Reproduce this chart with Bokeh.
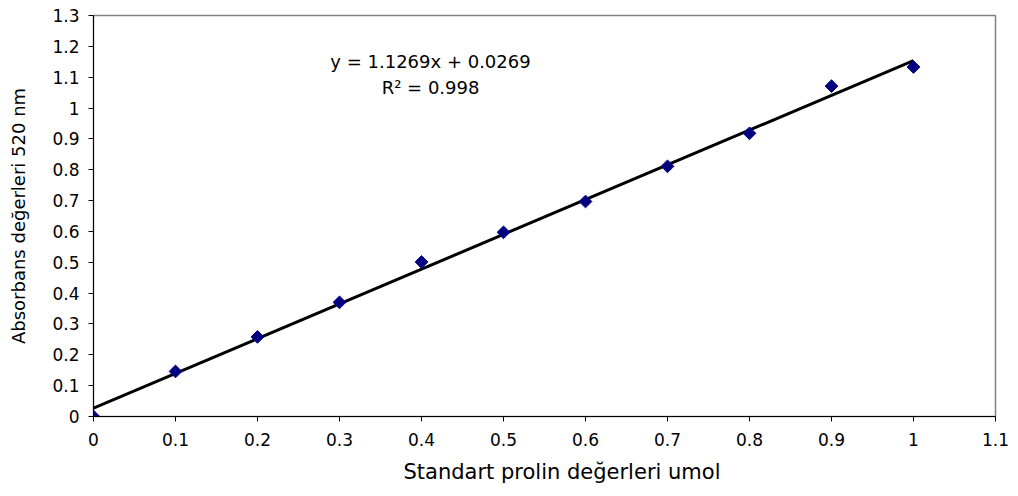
from bokeh.plotting import figure
from bokeh.models import Range1d, FixedTicker, NumeralTickFormatter, Label, Title, ColumnDataSource
from bokeh.embed import file_html
from bokeh.resources import INLINE
import numpy as np

# Standard proline calibration data
concentration = [0.0, 0.1, 0.2, 0.3, 0.4, 0.5, 0.6, 0.7, 0.8, 0.9, 1.0]
absorbance = [0.0, 0.146, 0.258, 0.370, 0.501, 0.597, 0.697, 0.811, 0.918, 1.071, 1.133]

# Linear trendline
slope = 1.1269
intercept = 0.0269
r_squared = 0.998

x_ticks = [0, 0.1, 0.2, 0.3, 0.4, 0.5, 0.6, 0.7, 0.8, 0.9, 1, 1.1]
y_ticks = [0, 0.1, 0.2, 0.3, 0.4, 0.5, 0.6, 0.7, 0.8, 0.9, 1, 1.1, 1.2, 1.3]

x_title = "Standart prolin değerleri umol"
y_title = "Absorbans değerleri 520 nm"

FONT = "DejaVu Sans"

p = figure(width=1018, height=496, output_backend="svg", toolbar_location=None,
           x_range=Range1d(0, 1.1), y_range=Range1d(0, 1.3))
p.min_border_left = 93
p.min_border_right = 23
p.min_border_top = 15
p.min_border_bottom = 80
p.background_fill_color = "white"
p.border_fill_color = "white"
p.outline_line_color = "#808080"
p.outline_line_width = 1.5
p.xgrid.visible = False
p.ygrid.visible = False

for ax, ticks in ((p.xaxis, x_ticks), (p.yaxis, y_ticks)):
    ax.ticker = FixedTicker(ticks=ticks)
    ax.formatter = NumeralTickFormatter(format="0.[0]")
    ax.axis_line_color = "#000000"
    ax.axis_line_width = 1
    ax.major_tick_line_color = "#000000"
    ax.major_tick_out = 5
    ax.major_tick_in = 0
    ax.minor_tick_line_color = None
    ax.major_label_text_font = FONT
    ax.major_label_text_font_size = "17px"
    ax.major_label_text_color = "#000000"
    ax.axis_label_text_font = FONT
    ax.axis_label_text_font_style = "normal"
    ax.axis_label_text_color = "#000000"

p.xaxis.major_label_standoff = 11
p.yaxis.major_label_standoff = 9
p.yaxis.axis_label = y_title
p.yaxis.axis_label_text_font_size = "18px"
p.yaxis.axis_label_standoff = 20

# Trendline across the data span
fit_x = [concentration[0], concentration[-1]]
fit_y = [slope * v + intercept for v in fit_x]
p.line(fit_x, fit_y, line_color="black", line_width=3)

src = ColumnDataSource(dict(x=concentration, y=absorbance))
p.scatter("x", "y", source=src, marker="square", angle=np.pi / 4, size=9,
          fill_color="#000080", line_color="#000080")

p.add_layout(Label(x=0.411, y=1.152, text=f"y = {slope}x + {intercept}",
                   text_align="center", text_baseline="middle",
                   text_font=FONT, text_font_size="18px", text_color="black"))
p.add_layout(Label(x=0.411, y=1.068, text=f"R² = {r_squared}",
                   text_align="center", text_baseline="middle",
                   text_font=FONT, text_font_size="18px", text_color="black"))

# Horizontal axis title, placed below the tick labels
p.add_layout(Title(text=x_title, align="left", offset=310, standoff=19,
                   text_font=FONT, text_font_size="21px", text_font_style="normal",
                   text_color="black"), "below")

open("out.html", "w").write(file_html(p, INLINE))
